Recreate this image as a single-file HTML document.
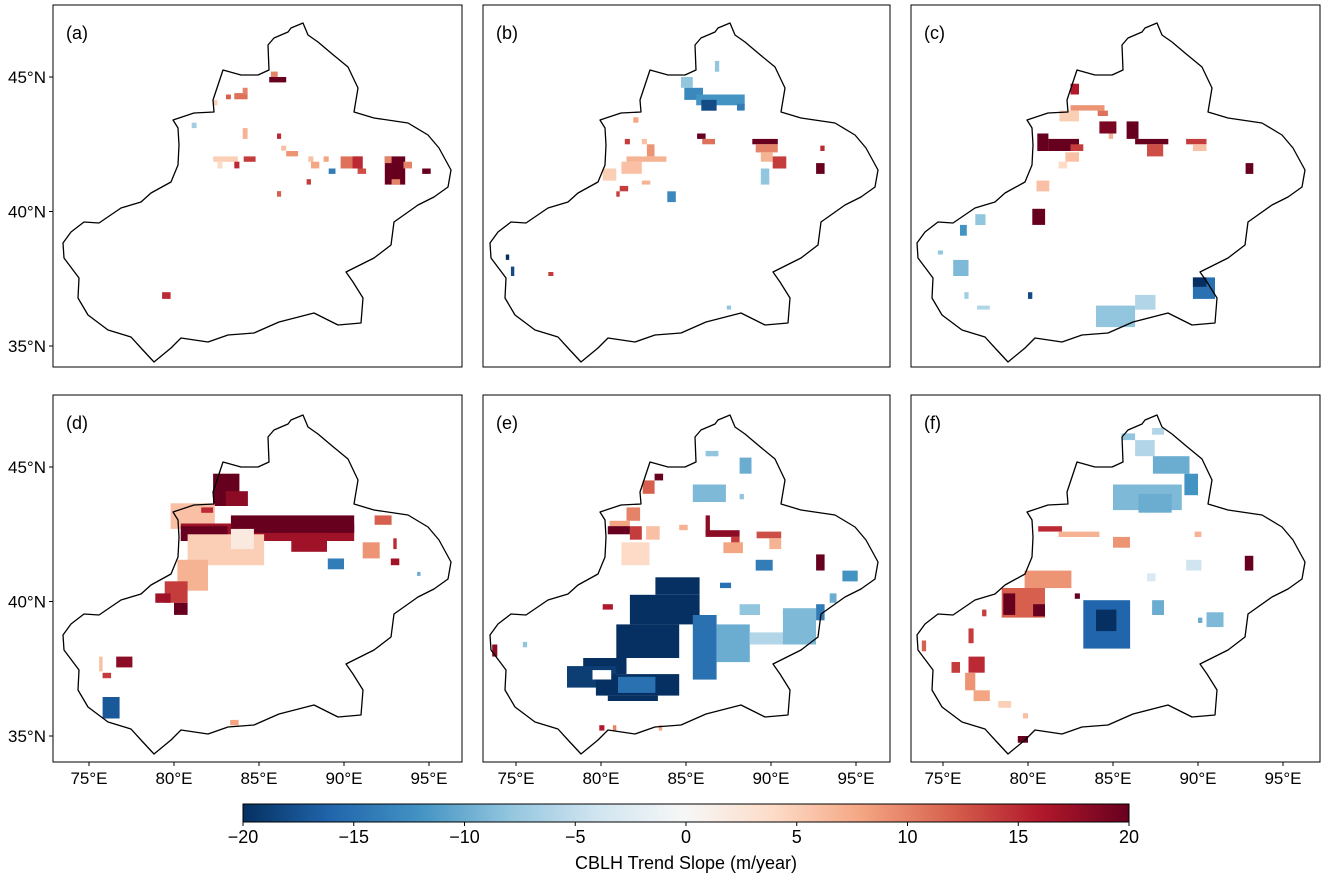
<!DOCTYPE html>
<html><head><meta charset="utf-8"><style>
html,body{margin:0;padding:0;background:#fff;}
svg{display:block;font-family:"Liberation Sans",Arial,sans-serif;}
</style></head><body>
<svg id="fig" width="1325" height="875" viewBox="0 0 1325 875" xmlns="http://www.w3.org/2000/svg">
<defs>
<linearGradient id="cbgrad" x1="0" x2="1" y1="0" y2="0">
<stop offset="0" stop-color="#053061"/><stop offset="0.1" stop-color="#2166ac"/><stop offset="0.2" stop-color="#4393c3"/><stop offset="0.3" stop-color="#92c5de"/><stop offset="0.4" stop-color="#d1e5f0"/><stop offset="0.5" stop-color="#f7f7f7"/><stop offset="0.6" stop-color="#fddbc7"/><stop offset="0.7" stop-color="#f4a582"/><stop offset="0.8" stop-color="#d6604d"/><stop offset="0.9" stop-color="#b2182b"/><stop offset="1" stop-color="#67001f"/>
</linearGradient>
</defs>
<g id="panels"></g>
<g id="colorbar">
<rect x="243" y="804" width="886" height="18" fill="url(#cbgrad)" stroke="#000" stroke-width="1"/>
<g id="cbticks"></g>
<text x="686" y="869" font-size="18" text-anchor="middle">CBLH Trend Slope (m/year)</text>
</g>
</svg>
<script>
// ---- data ----
const cbTicks = [-20,-15,-10,-5,0,5,10,15,20];
const lonTicks = [75,80,85,90,95];
const latTicks = [45,40,35];
const panelLabels = ["(a)","(b)","(c)","(d)","(e)","(f)"];
// cells: [lon0, latTop, lon1, latBottom, value]
const cellsA = [[85.7,45.2,86.1,45.0,10],[85.6,45.0,86.6,44.8,20],[83.06,44.35,83.35,44.17,12],[83.55,44.4,84.33,44.17,11],[84.04,44.6,84.33,44.35,10],[82.3,44.15,82.55,43.95,5],[81.04,43.3,81.33,43.1,-7],[84.04,43.1,84.33,42.7,7],[86.06,42.9,86.3,42.7,15],[86.3,42.45,86.6,42.26,6],[86.6,42.25,87.3,42.05,9],[82.3,42.05,83.75,41.85,5],[82.55,41.85,82.85,41.6,4],[83.55,41.85,83.85,41.6,15],[84.1,42.05,84.8,41.85,14],[87.9,42.05,88.2,41.85,6],[88.06,41.85,88.55,41.6,8],[88.8,42.05,89.1,41.85,8],[89.1,41.6,89.5,41.4,-14],[89.8,42.05,91.1,41.6,11],[90.5,42.05,91.1,41.6,15],[90.8,41.6,91.3,41.4,13],[87.8,41.2,88.06,41.0,14],[86.06,40.76,86.3,40.55,12],[92.4,42.05,93.6,41.0,20],[92.4,42.05,92.8,41.8,10],[93.5,41.85,94.0,41.6,10],[92.8,41.2,93.3,41.0,10],[94.6,41.6,95.1,41.4,20],[79.3,37.0,79.8,36.75,15]];
const cellsB = [[86.7,45.6,86.95,45.2,-8],[84.7,45.0,85.4,44.6,-8],[84.9,44.6,86.0,44.15,-13],[85.6,44.35,88.45,43.95,-12],[85.9,44.15,86.8,43.75,-18],[88.0,44.0,88.45,43.75,-14],[81.9,43.5,82.2,43.3,8],[81.4,42.7,81.7,42.5,14],[82.4,42.7,82.7,42.5,6],[82.7,42.5,83.15,42.05,9],[81.5,42.05,83.85,41.85,7],[81.2,41.85,82.4,41.4,6],[80.1,41.6,80.9,41.15,5],[82.4,41.15,82.9,41.0,7],[81.1,40.95,81.6,40.75,14],[80.9,40.75,81.1,40.55,14],[83.9,40.75,84.4,40.35,-13],[85.65,42.9,86.15,42.7,20],[85.95,42.7,86.7,42.5,11],[88.9,42.7,90.4,42.5,20],[89.1,42.5,90.4,42.2,10],[89.4,42.2,90.1,41.85,7],[90.1,42.05,90.9,41.6,14],[89.4,41.6,89.9,41.0,-8],[92.9,42.45,93.15,42.25,15],[92.65,41.8,93.15,41.4,20],[74.4,38.4,74.6,38.2,-20],[74.7,37.95,74.9,37.6,-18],[76.9,37.75,77.2,37.6,14],[87.4,36.5,87.65,36.35,-8]];
const cellsC = [[82.5,44.75,83.0,44.35,16],[82.5,43.95,84.5,43.75,9],[84.1,43.75,84.7,43.55,11],[81.85,43.75,83.0,43.35,5],[84.2,43.35,85.2,42.9,19],[84.75,42.9,85.0,42.7,7],[85.8,43.35,86.5,42.7,20],[86.3,42.7,88.25,42.5,20],[87.0,42.5,87.95,42.05,13],[89.3,42.7,90.5,42.5,14],[89.7,42.5,90.5,42.25,6],[80.55,42.9,81.2,42.25,20],[81.2,42.7,83.0,42.25,20],[82.5,42.5,83.25,42.25,14],[82.2,42.2,83.0,41.85,6],[81.8,41.85,82.3,41.6,4],[80.5,41.15,81.25,40.75,6],[80.25,40.1,81.0,39.5,20],[92.8,41.8,93.25,41.4,20],[76.9,39.9,77.5,39.5,-8],[76.0,39.5,76.4,39.1,-12],[74.7,38.55,75.0,38.4,-8],[75.6,38.2,76.5,37.6,-9],[76.25,37.0,76.5,36.75,-7],[77.0,36.5,77.75,36.35,-6],[80.0,37.0,80.25,36.75,-18],[84.0,36.5,86.3,35.7,-8],[86.3,36.9,87.5,36.35,-6],[89.7,37.55,91.0,36.75,-15],[89.7,37.55,90.5,37.2,-20]];
const cellsD = [[82.3,44.75,83.85,43.55,20],[83.05,44.1,84.35,43.55,18],[79.8,43.65,82.4,42.7,6],[81.6,43.5,82.3,43.3,15],[80.4,42.9,90.6,42.25,17],[83.35,43.2,90.6,42.55,20],[80.4,42.8,83.15,42.25,20],[80.8,42.5,85.3,41.35,5],[83.35,42.7,84.7,41.95,2],[86.9,42.5,89.0,41.85,17],[91.1,42.2,92.1,41.6,9],[91.8,43.2,92.8,42.85,12],[92.75,41.6,93.25,41.35,17],[92.9,42.35,93.1,41.95,15],[89.05,41.6,90.0,41.2,-14],[94.3,41.1,94.5,40.95,-10],[80.2,41.55,82.0,40.4,7],[79.45,40.75,80.8,39.95,14],[78.9,40.3,79.8,39.95,17],[80.0,39.95,80.8,39.5,20],[75.6,37.95,75.8,37.4,6],[76.6,37.95,77.55,37.55,18],[75.8,37.35,76.3,37.15,14],[75.8,36.45,76.8,35.65,-17],[83.3,35.6,83.8,35.4,8]];
const cellsE = [[83.2,40.9,85.8,40.25,-20],[81.7,40.25,85.8,39.15,-20],[80.9,39.15,84.6,37.9,-20],[78.95,37.9,81.5,37.3,-20],[78.0,37.6,80.9,36.8,-19],[79.7,37.3,84.6,36.5,-20],[80.4,36.5,83.35,36.3,-20],[81.0,37.2,83.2,36.6,-15],[79.5,37.45,80.6,37.1,0],[85.4,39.5,86.8,37.1,-15],[86.8,39.15,88.75,37.75,-10],[88.75,38.85,90.7,38.4,-6],[90.7,39.75,92.65,38.4,-9],[88.15,39.9,89.35,39.5,-8],[92.65,39.9,93.15,39.3,-14],[93.45,40.3,93.85,39.95,-10],[94.2,41.15,95.1,40.75,-12],[87.0,40.7,87.65,40.5,-15],[89.1,41.55,90.1,41.15,-14],[86.15,45.6,86.9,45.4,-8],[88.15,45.35,88.85,44.75,-10],[85.4,44.35,87.35,43.7,-9],[88.15,44.0,88.4,43.8,-8],[83.15,44.75,83.65,44.5,20],[82.45,44.5,83.15,44.0,12],[81.5,43.5,82.3,43.0,10],[80.5,43.0,81.7,42.65,8],[80.4,42.8,81.7,42.5,20],[81.7,42.8,82.4,42.3,14],[81.2,42.2,82.85,41.35,4],[82.65,42.8,83.45,42.3,6],[84.6,42.85,85.1,42.65,7],[86.15,43.2,86.4,42.5,18],[86.15,42.65,88.15,42.4,18],[87.65,42.4,88.15,41.9,14],[87.2,42.2,88.35,41.8,8],[89.15,42.6,90.6,42.35,13],[89.9,42.35,90.6,41.95,7],[92.65,41.75,93.15,41.15,20],[80.1,39.9,80.7,39.7,16],[73.6,38.4,73.9,37.95,18],[75.4,38.5,75.65,38.3,-8],[79.9,35.4,80.2,35.2,16],[80.7,35.4,80.9,35.2,10],[83.4,35.4,83.6,35.2,8]];
const cellsF = [[85.5,46.25,86.3,46.0,-8],[87.3,46.45,88.0,46.2,-6],[86.3,46.0,87.45,45.4,-6],[87.35,45.4,89.5,44.75,-10],[89.2,44.75,90.0,43.95,-12],[85.0,44.35,89.05,43.4,-9],[86.5,44.0,88.45,43.3,-10],[80.6,42.8,82.0,42.6,15],[81.8,42.6,84.2,42.4,7],[85.0,42.4,86.0,42.0,9],[89.8,42.6,90.2,42.4,7],[92.75,41.7,93.25,41.15,20],[89.3,41.55,90.2,41.15,-4],[87.0,41.05,87.5,40.75,-3],[79.8,41.15,82.55,40.5,9],[78.45,40.5,81.0,39.4,12],[78.55,40.3,79.25,39.5,20],[80.3,39.9,81.0,39.45,20],[82.75,40.3,83.05,40.1,20],[83.25,40.05,86.0,38.25,-16],[84.0,39.7,85.2,38.9,-20],[87.3,40.05,88.0,39.5,-10],[90.5,39.6,91.5,39.05,-9],[90.0,39.4,90.25,39.2,-10],[77.3,39.7,77.55,39.45,14],[76.5,39.0,76.8,38.45,14],[73.75,38.55,74.0,38.15,12],[76.5,37.95,77.45,37.35,15],[75.5,37.75,76.0,37.35,14],[76.3,37.35,76.9,36.7,9],[76.8,36.7,77.75,36.3,8],[78.25,36.3,79.0,36.05,5],[79.7,35.85,80.0,35.65,6],[79.4,35.0,80.0,34.75,20]];
const panelCells = [cellsA,cellsB,cellsC,cellsD,cellsE,cellsF];
// ---- layout ----
const NS='http://www.w3.org/2000/svg';
const colLeft=[53,483,911], colRight=[462,890,1320];
const colLon75=[89,516,943];
const rowTop=[5,395], rowBottom=[367,762];
const rowLat45=[77,467];
const pxLon=17, pxLat=26.9;
function xOf(col,lon){return colLon75[col]+(lon-75)*pxLon;}
function yOf(row,lat){return rowLat45[row]+(45-lat)*pxLat;}
const stops=[[5,48,97],[33,102,172],[67,147,195],[146,197,222],[209,229,240],[247,247,247],[253,219,199],[244,165,130],[214,96,77],[178,24,43],[103,0,31]];
function cmap(v){let t=(Math.max(-20,Math.min(20,v))+20)/4;let i=Math.min(9,Math.floor(t));let f=t-i;const a=stops[i],b=stops[i+1];
return 'rgb('+[0,1,2].map(k=>Math.round(a[k]+(b[k]-a[k])*f)).join(',')+')';}
// outline (panel-a pixel coords relative to 41,5)
const outline=[[250,23],[262,18],[267,30],[277,37],[290,48],[307,62],[317,83],[313,107],[333,113],[367,118],[387,130],[398,143],[410,165],[407,182],[393,192],[377,200],[353,217],[350,240],[333,253],[305,267],[312,277],[322,293],[320,318],[297,320],[273,308],[238,317],[213,328],[187,330],[167,337],[140,333],[130,343],[113,357],[100,343],[90,332],[67,325],[47,310],[37,293],[38,273],[23,253],[22,238],[30,227],[43,217],[58,218],[80,203],[100,197],[110,188],[130,177],[137,160],[138,140],[137,123],[132,115],[153,108],[173,107],[172,95],[182,65],[200,70],[217,70],[228,65],[227,40],[233,33],[247,27]];
const panels=document.getElementById('panels');
function mk(tag,attrs,parent){const e=document.createElementNS(NS,tag);for(const k in attrs)e.setAttribute(k,attrs[k]);parent.appendChild(e);return e;}
for(let p=0;p<6;p++){
  const row=Math.floor(p/3), col=p%3;
  const g=mk('g',{},panels);
  
  
  const cg=mk('g',{},g);
  
  
  for(const c of panelCells[p]){
    const x0=xOf(col,c[0]),x1=xOf(col,c[2]),y0=yOf(row,c[1]),y1=yOf(row,c[3]);
    const r=mk('rect',{x:x0.toFixed(1),y:y0.toFixed(1),width:(x1-x0).toFixed(1),height:(y1-y0).toFixed(1),fill:c[4]===0?'#fff':cmap(c[4])},cg);
    
    
  }
  const dx=41+colLon75[col]-89, dy=5+(row?392:0);
  const pts=outline.map(q=>(q[0]+dx)+','+(q[1]+dy)).join(' ');
  const pl=mk('polygon',{points:pts,fill:'none',stroke:'#000','stroke-width':1.3,'stroke-linejoin':'round'},g);
  
  
  const fr=mk('rect',{x:colLeft[col],y:rowTop[row],width:colRight[col]-colLeft[col],height:rowBottom[row]-rowTop[row],fill:'none',stroke:'#000','stroke-width':1},g);
  
  
  const lb=mk('text',{x:colLeft[col]+13,y:rowTop[row]+34,'font-size':18},g);
  lb.textContent=panelLabels[p];
  
  
  if(col===0){
    for(const lat of latTicks){
      const y=yOf(row,lat);
      const tk=mk('line',{x1:colLeft[0]-4,x2:colLeft[0],y1:y,y2:y,stroke:'#000'},g);
      
      
      const t=mk('text',{x:colLeft[0]-7,y:y+6,'font-size':17,'text-anchor':'end'},g);
      t.textContent=lat+'°N';
      
      
    }
  }
  if(row===1){
    for(const lon of lonTicks){
      const x=xOf(col,lon);
      const tk=mk('line',{x1:x,x2:x,y1:rowBottom[1],y2:rowBottom[1]+4,stroke:'#000'},g);
      
      
      const t=mk('text',{x:x,y:rowBottom[1]+22,'font-size':17,'text-anchor':'middle'},g);
      t.textContent=lon+'°E';
      
      
    }
  }
}
const cbt=document.getElementById('cbticks');
for(const v of cbTicks){
  const x=243+(v+20)/40*886;
  const tk=mk('line',{x1:x,x2:x,y1:822,y2:826,stroke:'#000'},cbt);
  
  
  const t=mk('text',{x:x,y:843,'font-size':18,'text-anchor':'middle'},cbt);
  t.textContent=v<0?'\u2212'+(-v):String(v);
  
  
}
</script>
</body></html>
